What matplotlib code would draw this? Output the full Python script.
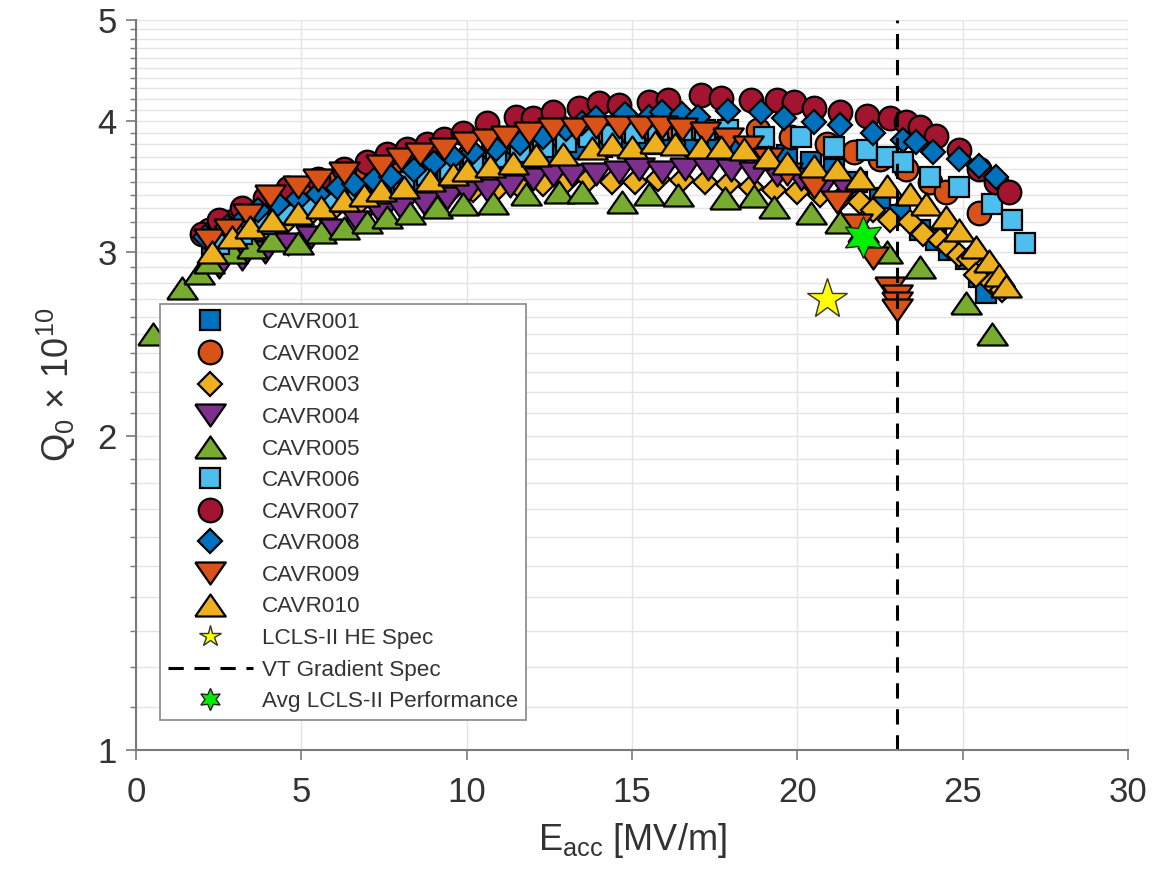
import numpy as np
import matplotlib
matplotlib.use("Agg")
import matplotlib.pyplot as plt
from matplotlib.lines import Line2D
from matplotlib.ticker import FixedLocator, NullFormatter

plt.rcParams['font.family'] = ['Liberation Sans', 'DejaVu Sans']
plt.rcParams['mathtext.fontset'] = 'custom'
plt.rcParams['mathtext.rm'] = 'Liberation Sans'
plt.rcParams['mathtext.it'] = 'Liberation Sans:italic'

# (Eacc [MV/m], Q0 [1e10]) per cavity
cavr001 = [(2.3, 3.02), (2.9, 3.08), (3.6, 3.14), (4.3, 3.2), (5.0, 3.25), (5.7, 3.3),
           (6.4, 3.35), (7.1, 3.4), (7.8, 3.45), (8.5, 3.5), (9.2, 3.55), (9.9, 3.6),
           (10.6, 3.63), (11.3, 3.67), (12.0, 3.7), (12.7, 3.73), (13.4, 3.76), (14.1, 3.78),
           (14.8, 3.8), (15.5, 3.8), (16.2, 3.8), (16.9, 3.79), (17.6, 3.78), (18.3, 3.76),
           (19.0, 3.74), (19.7, 3.71), (20.4, 3.66), (21.1, 3.6), (21.8, 3.5), (22.5, 3.38),
           (23.1, 3.25), (23.7, 3.15), (24.2, 3.08), (24.6, 3.01), (25.1, 2.95), (25.5, 2.84),
           (25.7, 2.74)]
cavr002 = [(2.2, 3.15), (2.8, 3.2), (3.4, 3.27), (4.0, 3.33), (4.7, 3.38), (5.3, 3.43),
           (6.0, 3.48), (6.6, 3.52), (7.3, 3.56), (8.0, 3.6), (8.7, 3.64), (9.4, 3.68),
           (10.1, 3.72), (10.8, 3.76), (11.5, 3.8), (12.2, 3.83), (12.9, 3.86), (13.6, 3.88),
           (14.3, 3.89), (15.0, 3.9), (15.7, 3.91), (16.4, 3.92), (17.1, 3.92), (17.8, 3.92),
           (18.8, 3.92), (19.8, 3.86), (20.9, 3.8), (21.7, 3.74), (22.5, 3.68), (23.3, 3.6),
           (24.0, 3.5), (24.5, 3.42), (25.5, 3.27)]
cavr003 = [(2.5, 3.0), (3.2, 3.08), (3.9, 3.15), (4.6, 3.22), (5.3, 3.27), (6.0, 3.3),
           (6.7, 3.33), (7.4, 3.36), (8.1, 3.38), (8.8, 3.4), (9.5, 3.42), (10.2, 3.44),
           (10.9, 3.44), (11.6, 3.46), (12.3, 3.48), (13.0, 3.5), (13.7, 3.52), (14.4, 3.5),
           (15.1, 3.5), (15.8, 3.52), (16.5, 3.51), (17.2, 3.5), (17.9, 3.48), (18.6, 3.46),
           (19.3, 3.44), (20.0, 3.42), (20.7, 3.4), (21.3, 3.37), (21.9, 3.35), (22.3, 3.29),
           (22.8, 3.22), (23.4, 3.2), (23.8, 3.12), (24.3, 3.08), (24.6, 3.03), (24.9, 2.98),
           (25.2, 2.95), (25.4, 2.85), (25.9, 2.8), (26.2, 2.76)]
cavr004 = [(2.5, 2.9), (3.2, 2.95), (3.9, 3.0), (4.6, 3.05), (5.3, 3.1), (6.0, 3.15),
           (6.7, 3.2), (7.4, 3.26), (8.0, 3.3), (8.7, 3.34), (9.4, 3.38), (10.0, 3.42),
           (10.6, 3.44), (11.3, 3.47), (12.0, 3.52), (12.6, 3.55), (13.2, 3.55), (13.9, 3.56),
           (14.6, 3.58), (15.2, 3.6), (15.9, 3.58), (16.6, 3.6), (17.3, 3.6), (18.0, 3.59),
           (18.7, 3.57), (19.4, 3.55), (20.1, 3.52), (20.8, 3.48), (21.5, 3.44)]
cavr005 = [(0.5, 2.5), (1.4, 2.77), (1.9, 2.86), (2.2, 2.93), (2.9, 3.0), (3.5, 3.03),
           (4.1, 3.08), (4.9, 3.06), (5.6, 3.13), (6.3, 3.16), (7.0, 3.2), (7.6, 3.24),
           (8.3, 3.27), (9.1, 3.31), (9.9, 3.33), (10.8, 3.34), (11.8, 3.41), (12.8, 3.42),
           (13.5, 3.42), (14.7, 3.35), (15.5, 3.41), (16.4, 3.4), (17.8, 3.38), (18.7, 3.39),
           (19.3, 3.31), (20.4, 3.27), (21.3, 3.2), (22.0, 3.14), (22.7, 3.0), (23.7, 2.9),
           (25.1, 2.68), (25.9, 2.5)]
cavr006 = [(2.5, 3.05), (3.2, 3.12), (3.9, 3.19), (4.6, 3.25), (5.3, 3.3), (6.0, 3.35),
           (6.7, 3.4), (7.4, 3.45), (8.1, 3.5), (8.8, 3.55), (9.5, 3.6), (10.2, 3.65),
           (10.9, 3.7), (11.6, 3.74), (12.3, 3.78), (13.0, 3.82), (13.7, 3.86), (14.4, 3.88),
           (15.1, 3.9), (15.8, 3.92), (16.5, 3.92), (17.2, 3.92), (17.9, 3.92), (19.0, 3.86),
           (20.1, 3.86), (21.1, 3.78), (22.1, 3.75), (22.7, 3.7), (23.2, 3.66), (24.0, 3.54),
           (24.9, 3.46), (25.9, 3.33), (26.5, 3.22), (26.9, 3.06)]
cavr007 = [(2.0, 3.12), (2.5, 3.22), (3.2, 3.3), (3.9, 3.38), (4.6, 3.45), (5.5, 3.52),
           (6.3, 3.6), (7.0, 3.66), (7.6, 3.72), (8.2, 3.76), (8.8, 3.8), (9.3, 3.85),
           (9.9, 3.9), (10.6, 3.98), (11.5, 4.04), (12.0, 4.03), (12.6, 4.08), (13.4, 4.12),
           (14.0, 4.16), (14.6, 4.15), (15.5, 4.17), (16.1, 4.19), (17.1, 4.24), (17.7, 4.21),
           (18.6, 4.19), (19.4, 4.19), (19.9, 4.17), (20.5, 4.12), (21.3, 4.08), (22.1, 4.05),
           (22.8, 4.03), (23.3, 3.99), (23.7, 3.95), (24.2, 3.87), (24.9, 3.75), (25.5, 3.6),
           (26.0, 3.5), (26.4, 3.42)]
cavr008 = [(2.1, 3.1), (2.75, 3.17), (3.3, 3.23), (3.7, 3.29), (4.3, 3.33), (4.9, 3.37),
           (5.5, 3.41), (6.1, 3.45), (6.6, 3.48), (7.2, 3.51), (7.7, 3.54), (8.4, 3.59),
           (9.0, 3.65), (9.6, 3.7), (10.2, 3.74), (10.9, 3.76), (11.6, 3.81), (12.3, 3.86),
           (13.0, 3.93), (13.5, 3.98), (13.9, 4.03), (14.8, 4.06), (15.5, 4.04), (15.9, 4.08),
           (16.5, 4.06), (17.0, 4.04), (17.9, 4.09), (18.9, 4.08), (19.6, 4.03), (20.5, 3.99),
           (21.3, 3.97), (22.3, 3.9), (23.2, 3.84), (23.6, 3.82), (24.1, 3.74), (24.9, 3.68),
           (25.5, 3.62), (26.0, 3.54)]
cavr009 = [(2.2, 3.08), (2.8, 3.15), (3.4, 3.25), (4.05, 3.39), (4.9, 3.46), (5.5, 3.51),
           (6.3, 3.57), (7.4, 3.62), (8.0, 3.68), (8.6, 3.72), (9.3, 3.76), (10.0, 3.81),
           (10.6, 3.84), (11.2, 3.86), (11.9, 3.9), (12.6, 3.93), (13.3, 3.93), (13.9, 3.95),
           (14.6, 3.95), (15.3, 3.95), (15.9, 3.95), (16.5, 3.93), (17.2, 3.9), (17.9, 3.85),
           (18.5, 3.78), (19.1, 3.68), (19.7, 3.56), (20.5, 3.46), (21.2, 3.35), (21.8, 3.18),
           (22.3, 2.96), (22.8, 2.77), (23.0, 2.72), (23.0, 2.68), (23.0, 2.64)]
cavr010 = [(2.3, 3.0), (2.9, 3.1), (3.45, 3.17), (4.1, 3.22), (4.9, 3.27), (5.6, 3.31),
           (6.3, 3.36), (6.9, 3.4), (7.4, 3.44), (8.1, 3.46), (8.9, 3.51), (9.6, 3.56),
           (10.0, 3.59), (10.7, 3.62), (11.4, 3.65), (12.1, 3.71), (12.9, 3.72), (13.8, 3.77),
           (14.4, 3.8), (15.0, 3.78), (15.7, 3.82), (16.3, 3.8), (17.1, 3.78), (17.7, 3.78),
           (18.4, 3.76), (19.1, 3.7), (19.7, 3.65), (20.5, 3.62), (21.2, 3.6), (21.9, 3.53),
           (22.7, 3.47), (23.4, 3.41), (23.9, 3.33), (24.5, 3.24), (24.9, 3.15), (25.4, 3.03),
           (25.8, 2.94), (26.1, 2.85), (26.3, 2.78)]

names = ['CAVR001', 'CAVR002', 'CAVR003', 'CAVR004', 'CAVR005',
         'CAVR006', 'CAVR007', 'CAVR008', 'CAVR009', 'CAVR010']
series = [cavr001, cavr002, cavr003, cavr004, cavr005,
          cavr006, cavr007, cavr008, cavr009, cavr010]

he_spec = (20.9, 2.7)        # LCLS-II HE spec point
lcls2_avg = (22.0, 3.1)      # average LCLS-II performance
vt_gradient = 23.0           # VT gradient spec [MV/m]

# matlab-ish default colours
blue, orange, yellow, purple, green = '#0072BD', '#D95319', '#EDB120', '#7E2F8E', '#77AC30'
lblue, dred = '#4DBEEE', '#A2142F'

tri_up = [(-1, -0.72), (1, -0.72), (0, 0.72), (-1, -0.72)]
tri_dn = [(-1, 0.72), (1, 0.72), (0, -0.72), (-1, 0.72)]

styles = [
    dict(marker='s', ms=14.5, mfc=blue),
    dict(marker='o', ms=17, mfc=orange),
    dict(marker='D', ms=12.5, mfc=yellow),
    dict(marker=tri_dn, ms=22, mfc=purple),
    dict(marker=tri_up, ms=22, mfc=green),
    dict(marker='s', ms=14.5, mfc=lblue),
    dict(marker='o', ms=17, mfc=dred),
    dict(marker='D', ms=12.5, mfc=blue),
    dict(marker=tri_dn, ms=22, mfc=orange),
    dict(marker=tri_up, ms=22, mfc=yellow),
]

fig = plt.figure(figsize=(11.73, 8.82), dpi=100)
ax = fig.add_axes([136 / 1173, 1 - 750 / 882, 992 / 1173, 730 / 882])

handles = []
for name, pts, st in zip(names, series, styles):
    e, q = zip(*pts)
    ax.plot(e, q, ls='none', mec='k', mew=1.6, label=name, **st)
    handles.append(Line2D([], [], ls='none', mec='k', mew=1.6, **st))

ax.plot([he_spec[0]], [he_spec[1]], ls='none', marker='*', ms=30,
        mfc='#FFFF00', mec='#333333', mew=1.0, zorder=5)
ax.axvline(vt_gradient, color='k', ls=(0, (5, 3.5)), lw=2.2)
ax.plot([lcls2_avg[0]], [lcls2_avg[1]], ls='none', marker=(6, 1, 0), ms=30,
        mfc='#00EE00', mec='#222222', mew=1.0, zorder=5)

handles.append(Line2D([], [], ls='none', marker='*', ms=16, mfc='#FFFF00', mec='#333333', mew=1.0))
handles.append(Line2D([], [], color='k', ls=(0, (5, 3.5)), lw=2.2))
handles.append(Line2D([], [], ls='none', marker=(6, 1, 0), ms=16, mfc='#00EE00', mec='#222222', mew=1.0))
labels = names + ['LCLS-II HE Spec', 'VT Gradient Spec', 'Avg LCLS-II Performance']

ax.set_yscale('log')
ax.set_xlim(0, 30)
ax.set_ylim(1, 5)
ax.set_xticks([0, 5, 10, 15, 20, 25, 30])
ax.yaxis.set_major_locator(FixedLocator([1, 2, 3, 4, 5]))
ax.yaxis.set_minor_locator(FixedLocator([v / 10 for v in range(11, 50) if v % 10]))
ax.set_yticklabels(['1', '2', '3', '4', '5'])
ax.yaxis.set_minor_formatter(NullFormatter())

ax.grid(True, which='major', axis='x', color='#e4e4e4', lw=1)
ax.grid(True, which='both', axis='y', color='#e4e4e4', lw=1)
ax.set_axisbelow(True)

for s in ('top', 'right'):
    ax.spines[s].set_visible(False)
for s in ('left', 'bottom'):
    ax.spines[s].set_color('#7a7a7a')
    ax.spines[s].set_linewidth(1.5)

ax.tick_params(which='major', direction='out', length=7, width=1.2, color='#7a7a7a',
               labelsize=25, labelcolor='#333333')
ax.tick_params(which='minor', direction='out', length=4, width=1.0, color='#7a7a7a')
ax.tick_params(axis='x', which='major', pad=12)
ax.tick_params(axis='y', which='major', pad=7)

ax.set_xlabel(r'E$_{\mathrm{acc}}$ [MV/m]', fontsize=26, color='#333333', labelpad=8)
ax.set_ylabel(r'Q$_0$ $\times$ 10$^{10}$', fontsize=26, color='#333333', labelpad=14)

leg = ax.legend(handles, labels, loc='lower left', bbox_to_anchor=(0.024, 0.041),
                borderaxespad=0, fontsize=16.2, frameon=True, fancybox=False,
                edgecolor='#888888', framealpha=1, handlelength=3.8,
                handletextpad=0.4, labelspacing=0.47, borderpad=0.35, numpoints=1)
leg.get_frame().set_linewidth(1.2)
for t in leg.get_texts():
    t.set_color('#333333')

fig.savefig('out.png', dpi=100)
